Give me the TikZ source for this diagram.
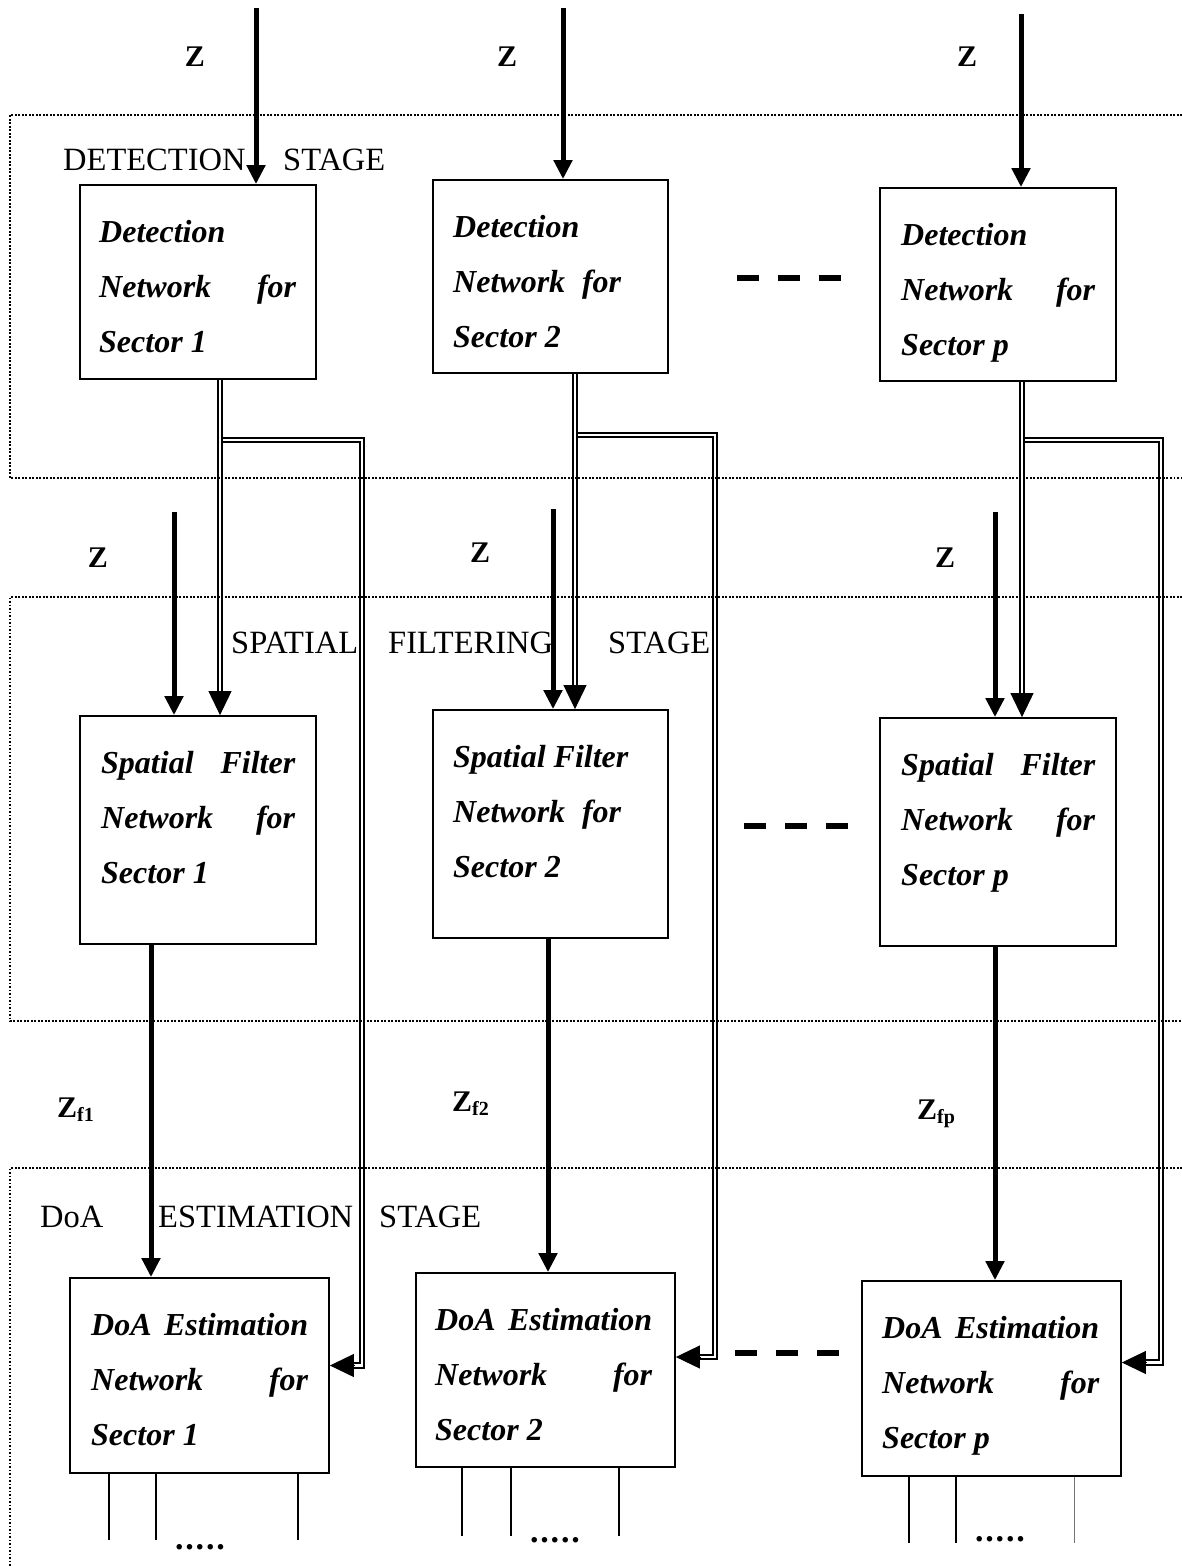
\documentclass[tikz,border=0pt]{standalone}
\usepackage{fontspec}
\setmainfont{Liberation Serif}
\usetikzlibrary{arrows.meta,calc}

\tikzset{
  blk/.style={draw, line width=1.8pt, inner sep=0pt},
  boxtxt/.style={inner sep=0pt, font=\fontsize{32}{38}\selectfont\bfseries\itshape},
  stagetxt/.style={inner sep=0pt, anchor=base west, font=\fontsize{32.5}{38}\selectfont},
  zlbl/.style={inner sep=0pt, font=\fontsize{30}{36}\selectfont\bfseries},
  dotlbl/.style={inner sep=0pt, font=\fontsize{34}{36}\selectfont\bfseries},
  thickarrow/.style={line width=5pt, -{Triangle[length=19pt,width=18pt]}},
  dbl/.style={double, double distance=2.8pt, line width=1.9pt},
  dbltip/.style={line width=1pt, -{Triangle[length=24pt,width=23pt]}},
  stagebox/.style={line width=1.3pt, dash pattern=on 1.6pt off 1.9pt},
  ellipsisdash/.style={line width=5.5pt, dash pattern=on 22pt off 19pt},
  outline/.style={line width=2pt},
}

% three justified text lines inside a network box
\newcommand{\netlabel}[7]{%
  \node[boxtxt, anchor=base west] (#1-l1) at (#2,#4+57) {\hbox to \dimexpr #3pt-#2pt\relax{#5}};
  \node[boxtxt, anchor=base west] (#1-l2) at (#2,#4+112) {\hbox to \dimexpr #3pt-#2pt\relax{#6}};
  \node[boxtxt, anchor=base west] (#1-l3) at (#2,#4+167) {\hbox to \dimexpr #3pt-#2pt\relax{#7}};
}
\newcommand{\fivedots}{.\kern1.8pt.\kern1.8pt.\kern1.8pt.\kern1.8pt.}
\newcommand{\wordgap}{\hskip 8pt plus 1fill\relax}

\begin{document}
\begin{tikzpicture}[x=1pt,y=-1pt]
\useasboundingbox (0,0) rectangle (1182,1566);

% ---- network boxes
\node[blk, minimum width=236pt, minimum height=194pt] (d1) at (198,282) {};
\node[blk, minimum width=235pt, minimum height=193pt] (d2) at (550.5,276.5) {};
\node[blk, minimum width=236pt, minimum height=193pt] (dp) at (998,284.5) {};

\node[blk, minimum width=236pt, minimum height=228pt] (s1) at (198,830) {};
\node[blk, minimum width=235pt, minimum height=228pt] (s2) at (550.5,824) {};
\node[blk, minimum width=236pt, minimum height=228pt] (sp) at (998,832) {};

\node[blk, minimum width=259pt, minimum height=195pt] (o1) at (199.5,1375.5) {};
\node[blk, minimum width=259pt, minimum height=194pt] (o2) at (545.5,1370) {};
\node[blk, minimum width=259pt, minimum height=195pt] (op) at (991.5,1378.5) {};

\netlabel{d1}{99}{296}{185}{Detection\hfill}{Network\hfill for}{Sector 1\hfill}
\netlabel{d2}{453}{621}{180}{Detection\hfill}{Network\hfill for}{Sector 2\hfill}
\netlabel{dp}{901}{1095}{188}{Detection\hfill}{Network\hfill for}{Sector p\hfill}
\netlabel{s1}{101}{295}{716}{Spatial\hfill Filter}{Network\hfill for}{Sector 1\hfill}
\netlabel{s2}{453}{621}{710}{Spatial\wordgap Filter}{Network\hfill for}{Sector 2\hfill}
\netlabel{sp}{901}{1095}{718}{Spatial\hfill Filter}{Network\hfill for}{Sector p\hfill}
\netlabel{o1}{91}{308}{1278}{DoA\hfill Estimation}{Network\hfill for}{Sector 1\hfill}
\netlabel{o2}{435}{652}{1273}{DoA\hfill Estimation}{Network\hfill for}{Sector 2\hfill}
\netlabel{op}{882}{1099}{1281}{DoA\hfill Estimation}{Network\hfill for}{Sector p\hfill}

% ---- input signal Z
\coordinate (in1) at (256,8);
\coordinate (in2) at (563,8);
\coordinate (in3) at (1021,14);
\draw[thickarrow] (in1) -- (d1.north -| in1);
\draw[thickarrow] (in2) -- (d2.north -| in2);
\draw[thickarrow] (in3) -- (dp.north -| in3);

\coordinate (zin1) at (174,512);
\coordinate (zin2) at (553,509);
\coordinate (zin3) at (995,512);
\draw[thickarrow] (zin1) -- (s1.north -| zin1);
\draw[thickarrow] (zin2) -- (s2.north -| zin2);
\draw[thickarrow] (zin3) -- (sp.north -| zin3);

% ---- filtered outputs to the DoA networks
\coordinate (f1) at (151,0);
\coordinate (f2) at (548,0);
\coordinate (f3) at (995,0);
\draw[thickarrow] (s1.south -| f1) -- (o1.north -| f1);
\draw[thickarrow] (s2.south -| f2) -- (o2.north -| f2);
\draw[thickarrow] (sp.south -| f3) -- (op.north -| f3);

% ---- detection decisions (double lines)
\coordinate (j1) at (220,440);  \coordinate (r1) at (362,440);
\coordinate (j2) at (575,435);  \coordinate (r2) at (715,435);
\coordinate (j3) at (1022,440); \coordinate (r3) at (1161,440);

\draw[dbl, shorten >=22pt] (j1) -- (r1) |- ($(o1.east)+(0,-10)$);
\draw[dbltip] ($(o1.east)+(24,-10)$) -- ($(o1.east)+(0,-10)$);
\draw[dbl, shorten >=22pt] (j2) -- (r2) |- ($(o2.east)+(0,-13)$);
\draw[dbltip] ($(o2.east)+(24,-13)$) -- ($(o2.east)+(0,-13)$);
\draw[dbl, shorten >=22pt] (j3) -- (r3) |- ($(op.east)+(0,-16)$);
\draw[dbltip] ($(op.east)+(24,-16)$) -- ($(op.east)+(0,-16)$);

\draw[dbl, shorten >=22pt] (d1.south -| j1) -- (s1.north -| j1);
\draw[dbltip] ($(s1.north -| j1)+(0,-24)$) -- (s1.north -| j1);
\draw[dbl, shorten >=22pt] (d2.south -| j2) -- (s2.north -| j2);
\draw[dbltip] ($(s2.north -| j2)+(0,-24)$) -- (s2.north -| j2);
\draw[dbl, shorten >=22pt] (dp.south -| j3) -- (sp.north -| j3);
\draw[dbltip] ($(sp.north -| j3)+(0,-24)$) -- (sp.north -| j3);

% ---- stage frames
\draw[stagebox] (1182,115) -- (10,115) -- (10,478) -- (1182,478);
\draw[stagebox] (1182,597) -- (10,597) -- (10,1021) -- (1182,1021);
\draw[stagebox] (1182,1168) -- (10,1168) -- (10,1566);

% ---- stage titles
\node[stagetxt] (st1a) at (63,170) {DETECTION};
\node[stagetxt] (st1b) at (283,170) {STAGE};
\node[stagetxt] (st2a) at (231,653) {SPATIAL};
\node[stagetxt] (st2b) at (388,653) {FILTERING};
\node[stagetxt] (st2c) at (608,653) {STAGE};
\node[stagetxt] (st3a) at (40,1227) {DoA};
\node[stagetxt] (st3b) at (158,1227) {ESTIMATION};
\node[stagetxt] (st3c) at (379,1227) {STAGE};

% ---- signal labels
\node[zlbl] (z1) at (195,57) {Z};
\node[zlbl] (z2) at (507,57) {Z};
\node[zlbl] (z3) at (967,57) {Z};
\node[zlbl] (z4) at (98,558) {Z};
\node[zlbl] (z5) at (480,553) {Z};
\node[zlbl] (z6) at (945,558) {Z};
\node[zlbl, anchor=base west] (zf1) at (57,1117) {Z\raisebox{-4pt}{\fontsize{20}{20}\selectfont f1}};
\node[zlbl, anchor=base west] (zf2) at (452,1111) {Z\raisebox{-4pt}{\fontsize{20}{20}\selectfont f2}};
\node[zlbl, anchor=base west] (zf3) at (917,1119) {Z\raisebox{-4pt}{\fontsize{20}{20}\selectfont fp}};

% ---- more sectors in between
\draw[ellipsisdash] (737,278) -- (842,278);
\draw[ellipsisdash] (744,826) -- (850,826);
\draw[ellipsisdash] (735,1353) -- (843,1353);

% ---- estimated DoA outputs
\draw[outline] ($(o1.south west)+(40,0)$) -- ++(0,66);
\draw[outline] ($(o1.south west)+(87,0)$) -- ++(0,66);
\draw[outline] ($(o1.south west)+(229,0)$) -- ++(0,66);
\draw[outline] ($(o2.south west)+(47,0)$) -- ++(0,68);
\draw[outline] ($(o2.south west)+(96,0)$) -- ++(0,68);
\draw[outline] ($(o2.south west)+(204,0)$) -- ++(0,68);
\draw[outline] ($(op.south west)+(48,0)$) -- ++(0,66);
\draw[outline] ($(op.south west)+(95,0)$) -- ++(0,66);
\draw[line width=1pt, black!55] ($(op.south west)+(213,0)$) -- ++(0,66);
\node[dotlbl] (dots1) at (200,1547) {\fivedots};
\node[dotlbl] (dots2) at (555,1540) {\fivedots};
\node[dotlbl] (dots3) at (1000,1539) {\fivedots};
\end{tikzpicture}
\end{document}
